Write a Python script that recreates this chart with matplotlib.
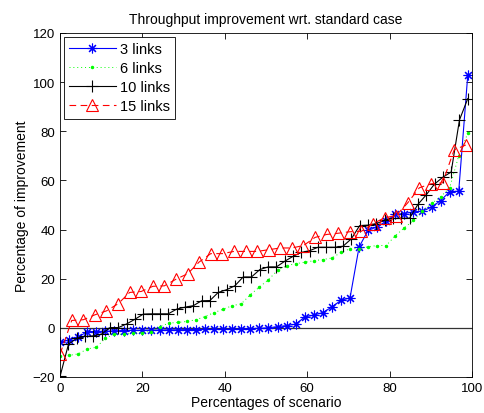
import numpy as np
import matplotlib
matplotlib.use("Agg")
import matplotlib.pyplot as plt

plt.rcParams["font.family"] = ["Liberation Sans", "DejaVu Sans"]

# percentages of scenario (x) and improvement (y) for each case
x_3 = np.linspace(0, 99, 46)
y_3 = [-5.9, -4.9, -3.8, -1.5, -1.5, -1.4, -1.2, -1.1, -1.0, -1.0,
       -0.9, -0.9, -0.8, -0.8, -0.7, -0.7, -0.6, -0.6, -0.5, -0.5,
       -0.4, -0.3, -0.2, 0.0, 0.5, 0.9, 1.5, 4.4, 5.2, 6.2,
       8.5, 11.2, 12.2, 32.9, 39.7, 41.1, 43.4, 46.2, 46.5, 47.2,
       47.5, 49.1, 51.8, 55.4, 55.6, 103.0]

x_6 = np.linspace(0, 99, 46)
y_6 = [-11.4, -11.2, -10.6, -8.6, -7.9, -4.2, -2.6, -2.6, -2.2, -1.9,
       -1.5, 0.5, 1.9, 2.2, 2.6, 3.3, 4.6, 6.2, 7.6, 9.0,
       9.8, 13.5, 16.6, 19.6, 23.4, 25.3, 26.1, 26.7, 27.3, 27.8,
       28.4, 30.7, 32.2, 32.2, 33.0, 33.5, 33.5, 37.5, 40.7, 43.7,
       47.5, 50.6, 53.3, 57.0, 70.0, 79.2]

x_10 = np.linspace(0, 99, 50)
y_10 = [-19.6, -6.7, -4.2, -3.5, -3.3, -2.5, 0.1, 0.1, 1.6, 3.5,
        5.6, 5.7, 5.7, 5.7, 7.6, 8.4, 9.0, 11.0, 11.1, 14.4,
        15.5, 17.1, 20.7, 20.7, 23.7, 24.8, 24.8, 27.1, 29.1, 30.7,
        31.4, 32.8, 32.8, 32.8, 33.2, 36.2, 41.6, 41.8, 42.4, 43.8,
        44.5, 44.6, 44.6, 50.2, 54.1, 58.5, 61.3, 63.4, 84.6, 93.3]

x_15 = np.linspace(0, 98.5, 36)
y_15 = [-10.6, 3.0, 3.3, 5.3, 6.9, 9.8, 14.4, 14.8, 16.9, 17.1,
        19.8, 22.0, 26.8, 30.2, 30.2, 31.1, 31.1, 31.1, 31.8, 32.5,
        32.5, 33.5, 36.8, 38.0, 38.5, 39.1, 39.3, 42.4, 44.8, 45.7,
        50.9, 57.0, 58.6, 59.0, 72.4, 74.4]

fig = plt.figure(figsize=(4.85, 4.14), dpi=100)
ax = fig.add_axes([0.124, 0.087, 0.849, 0.831])

ax.plot([0, 100], [0, 0], color="#333333", lw=0.9)
ax.plot(x_3, y_3, color="blue", lw=0.8, marker=(8, 2, 0), ms=7, mew=0.8,
        label="3 links")
ax.plot(x_6, y_6, color="#00ff00", lw=0.7, ls=(0, (1, 3)), marker=".",
        ms=3, label="6 links")
ax.plot(x_10, y_10, color="black", lw=0.8, marker="+", ms=8, mew=0.8,
        label="10 links")
ax.plot(x_15, y_15, color="red", lw=0.8, ls=(0, (6, 4)), marker="^", ms=8,
        mfc="none", mew=0.8, label="15 links")

ax.set_xlim(0, 100)
ax.set_ylim(-20, 120)
ax.set_xticks(range(0, 101, 20))
ax.set_yticks(range(-20, 121, 20))
ax.tick_params(direction="in", top=True, right=True, labelsize=9.5,
               length=4, width=0.6)
for s in ax.spines.values():
    s.set_linewidth(0.6)

ax.set_xlabel("Percentages of scenario", fontsize=10, labelpad=1)
ax.set_ylabel("Percentage of improvement", fontsize=10, labelpad=3)
ax.set_title("Throughput improvement wrt. standard case", fontsize=10, pad=7)

leg = ax.legend(loc="upper left", fontsize=10.5, fancybox=False,
                edgecolor="black", framealpha=1, borderaxespad=0.25,
                handlelength=3.2, labelspacing=0.36, borderpad=0.35,
                handletextpad=0.3)
leg.get_frame().set_linewidth(0.6)

fig.savefig("out.png", dpi=100)
